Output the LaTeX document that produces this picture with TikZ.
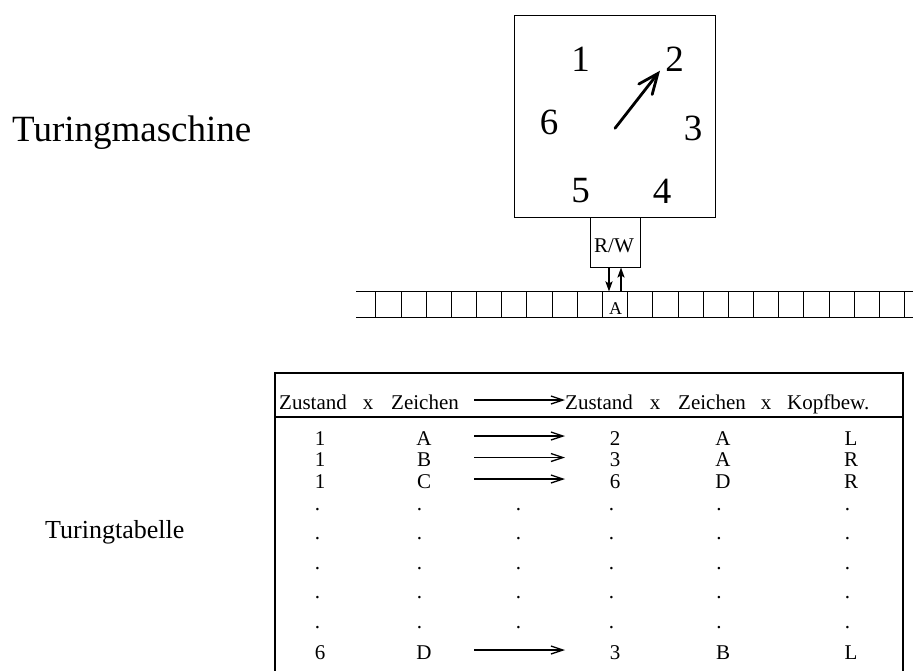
\documentclass[tikz,border=0pt]{standalone}
\usepackage{fontspec}
\setmainfont{Liberation Serif}
\usetikzlibrary{arrows.meta}
\begin{document}
\begin{tikzpicture}[x=1pt,y=-1pt,
  big/.style={font=\fontsize{37}{40}\selectfont, inner sep=0pt},
  tbl/.style={font=\fontsize{21}{24}\selectfont, inner sep=0pt, anchor=base},
  tblw/.style={font=\fontsize{21}{24}\selectfont, inner sep=0pt, anchor=base west},
  tarrow/.style={line width=1.3pt, -{Straight Barb[length=12pt,width=8pt]}},
  rwarrow/.style={line width=2.2pt, -{Stealth[length=10pt,width=7pt,inset=2pt]}},
  hand/.style={line width=2.8pt, line cap=round, -{Straight Barb[length=20pt,width=17pt,line cap=round]}},
  boxline/.style={draw, line width=0.9pt, inner sep=0pt}
]
\useasboundingbox (0,0) rectangle (913,670);

% title
\node[big, anchor=base west] (title) at (12,141.7) {Turingmaschine};

% finite control (clock)
\node[boxline, minimum width=201pt, minimum height=202pt] (cpu) at (614.5,116) {};
\node[big] (n1) at (580.5,59) {1};
\node[big] (n2) at (674.5,59) {2};
\node[big] (n6) at (549,122.5) {6};
\node[big] (n3) at (693,128) {3};
\node[big] (n5) at (580.5,191) {5};
\node[big] (n4) at (662,191) {4};
\coordinate (hstart) at (615,128.3);
\coordinate (htip) at (660,70.7);
\draw[hand] (hstart) -- (htip);

% read/write head
\node[boxline, minimum width=50pt, minimum height=50pt] (rw) at (615,242) {};
\node[font=\fontsize{21}{24}\selectfont, inner sep=0pt, anchor=base] (rwlabel) at (614,252.5) {R/W};

% tape
\draw[line width=0.9pt] (356.4,291.7) -- (913,291.7);
\draw[line width=0.9pt] (356.4,317.7) -- (913,317.7);
\foreach \k in {0,...,21} {
  \draw[line width=0.9pt] (375.8+25.18*\k,291.7) -- (375.8+25.18*\k,317.7);
}
\node[inner sep=0pt, minimum width=25.18pt, minimum height=26pt] (cellA) at (615,304.7) {};
\node[font=\fontsize{18}{20}\selectfont, inner sep=0pt, anchor=base] (Alabel) at (615.5,314) {A};
\draw[rwarrow] ([xshift=-6pt]rw.south) -- ([xshift=-6pt]cellA.north);
\draw[rwarrow] ([xshift=6pt]cellA.north) -- ([xshift=6pt]rw.south);

% table
\draw[line width=1.3pt] (275,676) -- (275,373) -- (903,373) -- (903,676);
\draw[line width=1.3pt] (275,417) -- (903,417);

\node[tblw] (h1) at (279,409) {Zustand};
\node[tbl]  (hx1) at (368,409) {x};
\node[tblw] (h2) at (391,409) {Zeichen};
\coordinate (has) at (474,400);
\coordinate (hae) at (565,400);
\draw[tarrow] (has) -- (hae);
\node[tblw] (h3) at (565,409) {Zustand};
\node[tbl]  (hx2) at (655,409) {x};
\node[tblw] (h4) at (678,409) {Zeichen};
\node[tbl]  (hx3) at (766,409) {x};
\node[tblw] (h5) at (787,409) {Kopfbew.};

\foreach \a/\b/\c/\d/\e/\yb/\n in {1/A/2/A/L/445/1, 1/B/3/A/R/466.5/2, 1/C/6/D/R/488/3, 6/D/3/B/L/659/4} {
  \node[tbl] (r\n c1) at (320,\yb) {\a};
  \node[tbl] (r\n c2) at (424,\yb) {\b};
  \node[tbl] (r\n c3) at (615,\yb) {\c};
  \node[tbl] (r\n c4) at (723,\yb) {\d};
  \node[tbl] (r\n c5) at (851,\yb) {\e};
  \coordinate (r\n s) at (474,\yb-9);
  \coordinate (r\n e) at (565,\yb-9);
  \draw[tarrow] (r\n s) -- (r\n e);
}

\foreach \yb [count=\i] in {510.5,539.5,569.5,598.5,628} {
  \foreach \xx [count=\j] in {317.5,419.5,518.5,611.5,719,847.5} {
    \node[tbl] (dot\i-\j) at (\xx,\yb) {.};
  }
}

\node[font=\fontsize{26}{30}\selectfont, inner sep=0pt, anchor=base west] (tabtitle) at (45,538.3) {Turingtabelle};
\end{tikzpicture}
\end{document}
